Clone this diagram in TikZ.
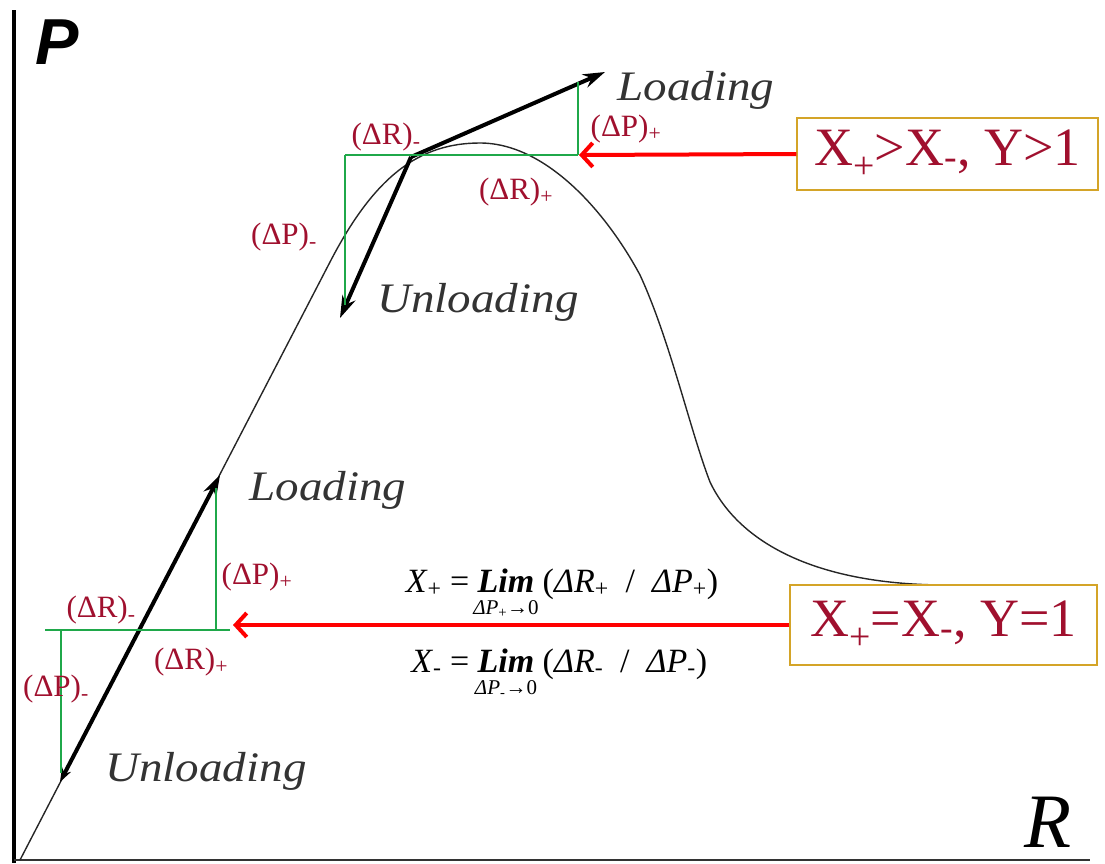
\documentclass[tikz,border=0pt]{standalone}
\usepackage{fontspec}
\usepackage{graphicx}
\setmainfont{Liberation Serif}
\newfontfamily\axisfont{Liberation Sans}
\usetikzlibrary{positioning,arrows.meta}

\definecolor{deltared}{HTML}{A0102E}
\definecolor{boxgold}{HTML}{D4A428}
\definecolor{stepgreen}{HTML}{1FA84A}

\begin{document}
\begin{tikzpicture}[x=1pt, y=-1pt,
      every node/.style={inner sep=0pt, align=center},
      delta/.style={text=deltared, font=\fontsize{31}{32}\selectfont},
      phase/.style={text=black!80, font=\fontsize{42}{43}\selectfont\itshape},
      cond/.style={draw=boxgold, line width=1.5pt, text=deltared,
                   font=\fontsize{54}{56}\selectfont, minimum width=301pt, minimum height=72pt},
      formula/.style={font=\fontsize{34}{35}\selectfont},
      limit/.style={font=\fontsize{21}{22}\selectfont},
      axis/.style={line width=4pt},
      curve/.style={line width=1.4pt, draw=black!85},
      tangent/.style={line width=4pt, -{Stealth[length=22pt,width=14pt]}},
      incr/.style={draw=stepgreen, line width=1.8pt},
      pointer/.style={draw=red, line width=4pt, -{Straight Barb[length=11pt,width=24pt]}},
  ]
    \useasboundingbox (0,0) rectangle (1105,863);

    \coordinate (top) at (14,10);
    \coordinate (orig) at (14,860);
    \coordinate (xend) at (1090,860);
    \draw[axis] (top) -- (14,863);
    \draw[line width=2pt, black!80] (orig) -- (xend);
    \node[font=\axisfont\bfseries\itshape\fontsize{65}{66}\selectfont] (plabel) at (57,42) {P};
    \node[font=\itshape\fontsize{77}{78}\selectfont] (rlabel) at (1048,822) {R};

    \draw[curve] (20,860) -- (330,262) .. controls (375,175) and (420,143) .. (480,143)
      .. controls (545,143) and (605,210) .. (640,275)
      .. controls (670,340) and (690,430) .. (710,482)
      .. controls (740,545) and (820,585) .. (947,585);

    \coordinate (lowU) at (60,782);
    \coordinate (lowL) at (220,475);
    \draw[tangent, {Stealth[length=14pt,width=10pt]}-{Stealth[length=22pt,width=14pt]}] (lowU) -- (lowL);
    \coordinate (tp) at (411,157);
    \coordinate (upL) at (605,72);
    \coordinate (upU) at (340,318);
    \draw[tangent] (tp) -- (upL);
    \draw[tangent] (tp) -- (upU);

    \coordinate (gA) at (345,155);
    \coordinate (gB) at (578,155);
    \draw[incr] (gA) -- (gB);
    \draw[incr] (gA) -- (345,305);
    \draw[incr] (gB) -- (578,82);
    \coordinate (gC) at (45,630);
    \coordinate (gD) at (230,630);
    \draw[incr] (gC) -- (gD);
    \draw[incr] (61,630) -- (61,773);
    \draw[incr] (216,630) -- (216,488);

    \node[cond] (ygt) at (947.5,154) {X\textsubscript{+}>X\textsubscript{-}, Y>1};
    \node[cond, minimum width=307pt, minimum height=80pt] (yeq) at (943.5,625)
      {X\textsubscript{+}=X\textsubscript{-}, Y=1};
    \coordinate (hitup) at (579,155);
    \coordinate (hitlow) at (233,625);
    \draw[pointer] (ygt.west) -- (hitup);
    \draw[pointer] (yeq.west) -- (hitlow);

    \node[delta] (drm1) at (386,137) {(ΔR)\textsubscript{-}};
    \node[delta] (dpp1) at (626,129) {(ΔP)\textsubscript{+}};
    \node[delta] (drp1) at (516,192) {(ΔR)\textsubscript{+}};
    \node[delta] (dpm1) at (284,237) {(ΔP)\textsubscript{-}};
    \node[delta] (drm2) at (101,610) {(ΔR)\textsubscript{-}};
    \node[delta] (dpp2) at (257,577) {(ΔP)\textsubscript{+}};
    \node[delta] (drp2) at (191,662) {(ΔR)\textsubscript{+}};
    \node[delta] (dpm2) at (56,689) {(ΔP)\textsubscript{-}};

    \node[phase] (load1) at (696,90) {\scalebox{1.12}[1]{Loading}};
    \node[phase] (load2) at (328,490) {\scalebox{1.12}[1]{Loading}};
    \node[phase] (unload1) at (478,302) {\scalebox{1.12}[1]{Unloading}};
    \node[phase] (unload2) at (206,771) {\scalebox{1.12}[1]{Unloading}};

    \node[formula, anchor=base] (limA) at (506,592) {\textbf{\textit{Lim}}};
    \node[formula, base left=8pt of limA] (xA) {\textit{X}\textsubscript{+} =};
    \node[formula, base right=8pt of limA] (ratA)
      {(\textit{ΔR}\textsubscript{+}~~/~~\textit{ΔP}\textsubscript{+})};
    \node[limit, below=8pt of limA] (limplus) {\textit{ΔP}\textsubscript{+}→0};
    \node[formula, anchor=base] (limB) at (506,672) {\textbf{\textit{Lim}}};
    \node[formula, base left=8pt of limB] (xB) {\textit{X}\textsubscript{-} =};
    \node[formula, base right=8pt of limB] (ratB)
      {(\textit{ΔR}\textsubscript{-}~~/~~\textit{ΔP}\textsubscript{-})};
    \node[limit, below=8pt of limB] (limminus) {\textit{ΔP}\textsubscript{-}→0};
  \end{tikzpicture}
\end{document}
